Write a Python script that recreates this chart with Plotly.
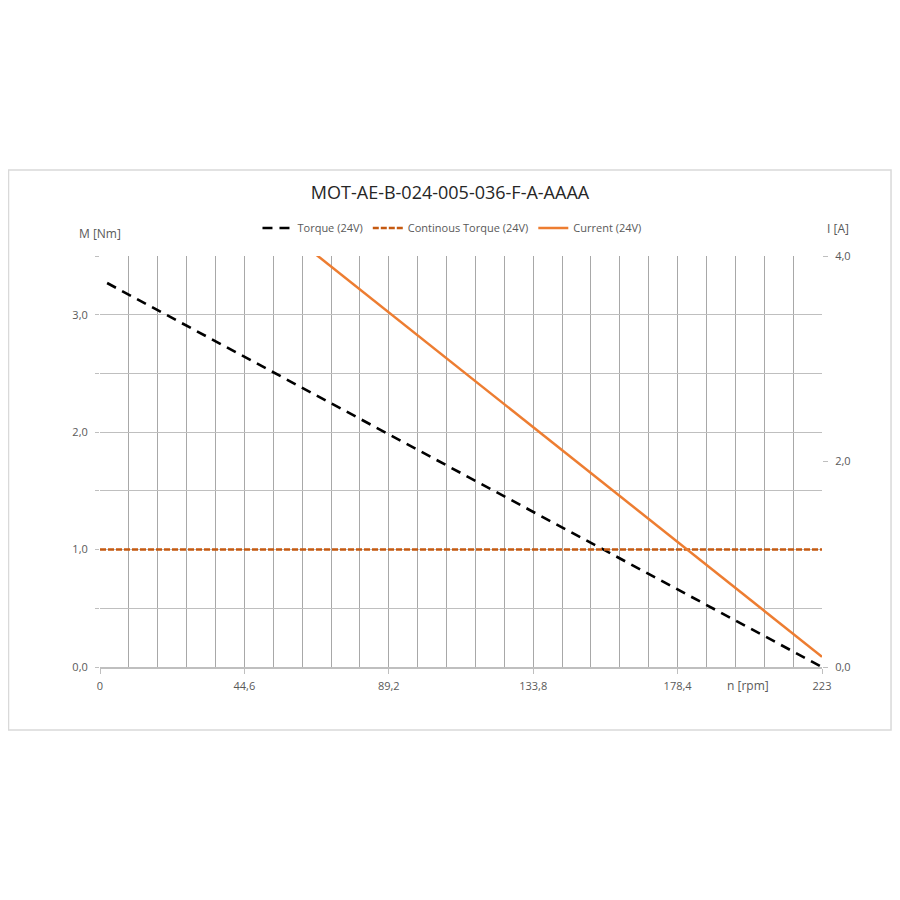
import plotly.graph_objects as go

# speed [rpm] vs torque [Nm] and current [A]
speed = [2.2, 223]
torque = [3.27, 0.0]
cont_speed = [0, 223]
cont_torque = [1.0, 1.0]
current = [5.63, 0.10]

x_ticks = [0, 44.6, 89.2, 133.8, 178.4, 223]
x_labels = ['0', '44,6', '89,2', '133,8', '178,4', '223']
m_ticks = [0, 1, 2, 3]
m_labels = ['0,0', '1,0', '2,0', '3,0']
i_ticks = [0, 2, 4]
i_labels = ['0,0', '2,0', '4,0']

grey = '#595959'

fig = go.Figure()
fig.add_trace(go.Scatter(x=speed, y=torque, name='Torque (24V)', mode='lines',
                         line=dict(color='black', width=2.6, dash='10px,7px')))
fig.add_trace(go.Scatter(x=cont_speed, y=cont_torque, name='Continous Torque (24V)',
                         mode='lines',
                         line=dict(color='#c55a11', width=2.4, dash='6px,2px')))
fig.add_trace(go.Scatter(x=speed, y=current, name='Current (24V)', mode='lines',
                         yaxis='y2', line=dict(color='#ed7d31', width=2.5)))

# page body adds 8px, so the figure is shrunk a bit to avoid scrollbars
fig.update_layout(
    width=884, height=884,
    margin=dict(l=92, r=70, t=248, b=225),
    paper_bgcolor='white', plot_bgcolor='white',
    font=dict(family='Open Sans', size=11, color=grey),
    title=dict(text='MOT-AE-B-024-005-036-F-A-AAAA', x=0.5, xanchor='center',
               y=0.7907, yanchor='middle', yref='container',
               font=dict(size=18, color='#262626')),
    showlegend=True,
    legend=dict(orientation='h', x=0.4875, xanchor='center', y=1.068,
                yanchor='middle', font=dict(size=11, color=grey),
                bgcolor='rgba(0,0,0,0)', itemwidth=30),
    xaxis=dict(range=[0, 223], tickvals=x_ticks, ticktext=x_labels,
               showgrid=False, zeroline=False,
               ticks='outside', ticklen=5, tickcolor='#bfbfbf',
               ticklabelstandoff=3,
               showline=True, linecolor='#bfbfbf', linewidth=2,
               minor=dict(tick0=0, dtick=8.92, showgrid=True,
                          gridcolor='#a8a8a8', gridwidth=1)),
    yaxis=dict(range=[0, 3.5], tickvals=m_ticks, ticktext=m_labels,
               showgrid=True, gridcolor='#bfbfbf', zeroline=False,
               ticks='outside', ticklen=4, tickcolor='#bfbfbf',
               ticklabelstandoff=5,
               minor=dict(tick0=0, dtick=0.5, showgrid=True, gridcolor='#bfbfbf',
                          ticks='outside', ticklen=4, tickcolor='#bfbfbf')),
    yaxis2=dict(range=[0, 4], tickvals=i_ticks, ticktext=i_labels,
                overlaying='y', side='right', showgrid=False, zeroline=False,
                ticks='outside', ticklen=5, tickcolor='#bfbfbf',
                ticklabelstandoff=5),
    annotations=[
        dict(text='M [Nm]', xref='paper', yref='paper', x=0, y=1, xanchor='center',
             yanchor='middle', yshift=23, showarrow=False, font=dict(size=12, color=grey)),
        dict(text='I [A]', xref='paper', yref='paper', x=1.022, y=1, xanchor='center',
             yanchor='middle', yshift=28, showarrow=False, font=dict(size=12, color=grey)),
        dict(text='n [rpm]', xref='paper', yref='paper', x=0.8975, y=0, xanchor='center',
             yanchor='middle', yshift=-18, showarrow=False, font=dict(size=12, color=grey)),
    ],
    shapes=[dict(type='rect', xref='paper', yref='paper',
                 x0=-0.1267, x1=1.0956, y0=-0.1533, y1=1.209,
                 line=dict(color='#d9d9d9', width=1.5), layer='below')],
)

fig.write_html('out.html')
